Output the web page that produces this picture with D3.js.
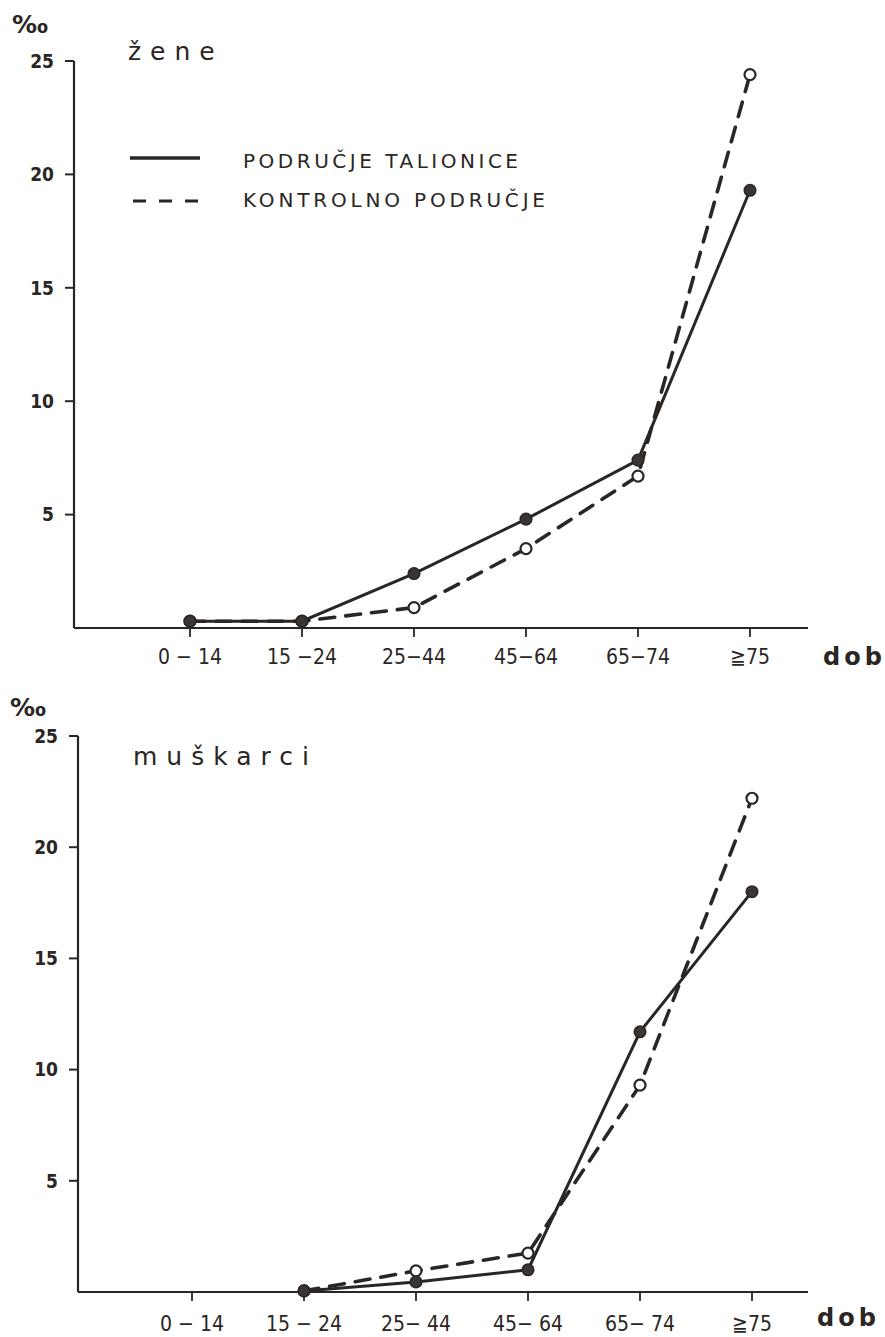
<!DOCTYPE html>
<html><head><meta charset="utf-8">
<script src="https://cdn.jsdelivr.net/npm/d3@7"></script>
<style>body{margin:0;background:#fff}svg{display:block}</style>
</head><body>
<svg id="c" width="885" height="1337"></svg>
<script>
const categories = ["0-14","15-24","25-44","45-64","65-74","≥75"];
const tickLabelsTop = ["0 − 14","15 −24","25−44","45−64","65−74","≧75"];
const tickLabelsBottom = ["0 − 14","15 − 24","25− 44","45− 64","65− 74","≧75"];
const yTicks = [5,10,15,20,25];
// žene (women)
const zeneTalionice = [0.3,0.3,2.4,4.8,7.4,19.3];
const zeneKontrolno = [0.3,0.3,0.9,3.5,6.7,24.4];
// muškarci (men) — no value for 0-14
const muskTalionice = [null,0.05,0.45,1.0,11.7,18.0];
const muskKontrolno = [null,0.05,0.95,1.75,9.3,22.2];
const legendLabels = ["PODRUČJE TALIONICE","KONTROLNO PODRUČJE"];

const ink = "#2a2624";
const svg = d3.select("#c");
const font = "'DejaVu Sans Condensed','DejaVu Sans',sans-serif";

function panel(cfg){
  const g = svg.append("g");
  const x = d3.scalePoint().domain(categories).range(cfg.xr);
  const y = d3.scaleLinear().domain([0,25]).range(cfg.yr);
  g.append("line").attr("x1",cfg.ax).attr("x2",cfg.ax).attr("y1",y(25)).attr("y2",cfg.base)
    .attr("stroke",ink).attr("stroke-width",2.2);
  g.append("line").attr("x1",cfg.ax).attr("x2",cfg.axEnd).attr("y1",cfg.base).attr("y2",cfg.base)
    .attr("stroke",ink).attr("stroke-width",2.2);
  yTicks.forEach(t=>{
    g.append("line").attr("x1",cfg.ax-9).attr("x2",cfg.ax).attr("y1",y(t)).attr("y2",y(t))
      .attr("stroke",ink).attr("stroke-width",2);
    g.append("text").attr("x",cfg.ax-20).attr("y",y(t)).attr("dy","0.36em")
      .attr("text-anchor","end").attr("font-family",font).attr("font-weight","bold")
      .attr("font-size",19).attr("fill",ink).text(t);
  });
  categories.forEach((c,i)=>{
    g.append("line").attr("x1",x(c)).attr("x2",x(c)).attr("y1",cfg.base).attr("y2",cfg.base+9)
      .attr("stroke",ink).attr("stroke-width",1.8);
    g.append("text").attr("x",x(c)).attr("y",cfg.base+cfg.lblDy)
      .attr("text-anchor","middle").attr("font-family",font)
      .attr("font-size",21).attr("fill",ink).text(cfg.labels[i]);
  });
  g.append("text").attr("x",cfg.dobX).attr("y",cfg.dobY).attr("font-family","'DejaVu Sans',sans-serif")
    .attr("font-weight","bold").attr("font-size",24).attr("letter-spacing",4).attr("fill",ink).text("dob");
  g.append("text").attr("x",cfg.pmX).attr("y",cfg.pmY).attr("font-family","'DejaVu Sans',sans-serif")
    .attr("font-weight","bold").attr("font-size",25).attr("fill",ink).text("‰");
  g.append("text").attr("x",cfg.tX).attr("y",cfg.tY).attr("font-family","'DejaVu Sans',sans-serif")
    .attr("font-size",25).attr("letter-spacing",cfg.tLS).attr("fill",ink).text(cfg.title);

  const line = d3.line().defined(d=>d.v!==null).x(d=>x(d.c)).y(d=>y(d.v));
  const mk = arr => categories.map((c,i)=>({c,v:arr[i]}));
  const dSolid = mk(cfg.solid), dDash = mk(cfg.dash);
  g.append("path").attr("d",line(dDash)).attr("fill","none").attr("stroke",ink)
    .attr("stroke-width",3.6).attr("stroke-dasharray","15,11").attr("stroke-linecap","round");
  g.append("path").attr("d",line(dSolid)).attr("fill","none").attr("stroke",ink)
    .attr("stroke-width",3);
  g.selectAll(".o").data(dDash.filter(d=>d.v!==null)).enter().append("circle")
    .attr("cx",d=>x(d.c)).attr("cy",d=>y(d.v)).attr("r",5.5)
    .attr("fill","#fff").attr("stroke",ink).attr("stroke-width",2.2);
  g.selectAll(".f").data(dSolid.filter(d=>d.v!==null)).enter().append("circle")
    .attr("cx",d=>x(d.c)).attr("cy",d=>y(d.v)).attr("r",5.8)
    .attr("fill","#3a3532").attr("stroke",ink).attr("stroke-width",1.5);
}

panel({xr:[190,750], yr:[628,61], ax:74, axEnd:808, base:628, labels:tickLabelsTop, lblDy:36,
  dobX:823, dobY:665, pmX:12, pmY:33, tX:128, tY:60, tLS:9, title:"žene",
  solid:zeneTalionice, dash:zeneKontrolno});
panel({xr:[192,752], yr:[1292,736], ax:78, axEnd:808, base:1292, labels:tickLabelsBottom, lblDy:39,
  dobX:817, dobY:1326, pmX:10, pmY:716, tX:133, tY:765, tLS:9, title:"muškarci",
  solid:muskTalionice, dash:muskKontrolno});

const lg = svg.append("g");
lg.append("line").attr("x1",130).attr("x2",200).attr("y1",158).attr("y2",158)
  .attr("stroke",ink).attr("stroke-width",3.5);
lg.append("line").attr("x1",133).attr("x2",200).attr("y1",201).attr("y2",201)
  .attr("stroke",ink).attr("stroke-width",3).attr("stroke-dasharray","13,13");
legendLabels.forEach((t,i)=>{
  lg.append("text").attr("x",243).attr("y",i?207:168).attr("font-family","'DejaVu Sans',sans-serif")
    .attr("font-size",20).attr("fill",ink).attr("textLength",i?302:275).attr("lengthAdjust","spacing").text(t);
});
</script>
</body></html>
